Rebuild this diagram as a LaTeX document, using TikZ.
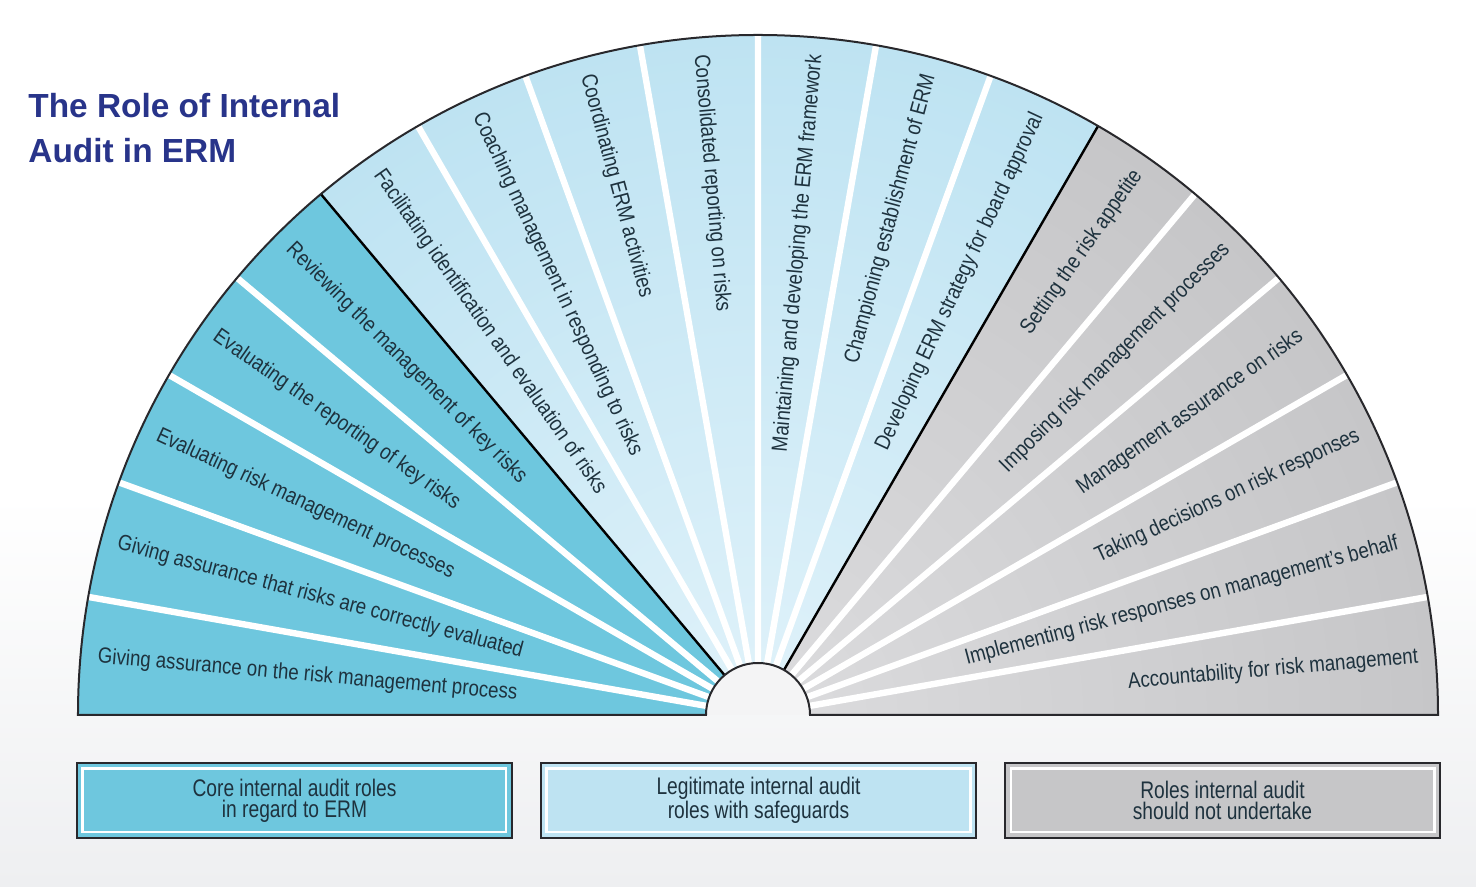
\documentclass[tikz,border=0pt]{standalone}
\usepackage{fontspec}
\usepackage{tikz}
\newfontfamily\narrowfont[FakeStretch=0.85]{Liberation Sans}
\newfontfamily\keyfont[FakeStretch=0.8]{Liberation Sans}
\newfontfamily\titlefont{Liberation Sans}
\definecolor{corefill}{RGB}{110,199,222}
\definecolor{legitfill}{RGB}{190,227,242}
\definecolor{legitlight}{RGB}{224,242,250}
\definecolor{greyfill}{RGB}{198,198,200}
\definecolor{greylight}{RGB}{220,220,222}
\definecolor{labeltext}{RGB}{30,50,62}
\definecolor{titleblue}{RGB}{40,52,138}
\definecolor{rimgrey}{RGB}{40,40,44}
\definecolor{bggrey}{RGB}{238,239,241}
\definecolor{holegrey}{RGB}{244,244,245}

\begin{document}
\begin{tikzpicture}[x=0.5pt, y=0.5pt,
  every node/.style={inner sep=0pt},
  left role/.style={font=\narrowfont\fontsize{11pt}{12pt}\selectfont, text=labeltext, anchor=west},
  right role/.style={font=\narrowfont\fontsize{11pt}{12pt}\selectfont, text=labeltext, anchor=east},
  divider/.style={white, line width=3.2pt},
  group line/.style={black, line width=1.2pt},
  rim/.style={rimgrey, line width=1pt},
  key box/.style={draw=rimgrey, line width=1.2pt, align=center, minimum width=217.5pt, minimum height=37.5pt, font=\keyfont\fontsize{12pt}{10.5pt}\selectfont, text=labeltext},
  key inset/.style={white, line width=1.3pt}]
\useasboundingbox (-758,-172) rectangle (718,715);
\fill[white] (-758,-172) rectangle (718,715);
\shade[top color=white, bottom color=bggrey] (-758,-172) rectangle (718,220);

\node[font=\titlefont\bfseries\fontsize{16.7pt}{22.5pt}\selectfont, text=titleblue, align=left, anchor=north west] (title) at (-730,622) {The Role of Internal\\Audit in ERM};

\fill[corefill] (180:52) -- (180:680) arc[start angle=180, end angle=130, radius=680] -- (130:52) arc[start angle=130, end angle=180, radius=52] -- cycle;
\begin{scope}
\clip (130:52) -- (130:680) arc[start angle=130, end angle=60, radius=680] -- (60:52) arc[start angle=60, end angle=130, radius=52] -- cycle;
\shade[inner color=legitlight, outer color=legitfill] (0,0) circle (680);
\end{scope}
\begin{scope}
\clip (60:52) -- (60:680) arc[start angle=60, end angle=0, radius=680] -- (0:52) arc[start angle=0, end angle=60, radius=52] -- cycle;
\shade[inner color=greylight, outer color=greyfill] (0,0) circle (680);
\end{scope}

\draw[divider] (170:52) -- (170:680) (160:52) -- (160:680) (150:52) -- (150:680) (140:52) -- (140:680);
\draw[divider] (120:52) -- (120:680) (110:52) -- (110:680) (100:52) -- (100:680) (90:52) -- (90:680) (80:52) -- (80:680) (70:52) -- (70:680);
\draw[divider] (50:52) -- (50:680) (40:52) -- (40:680) (30:52) -- (30:680) (20:52) -- (20:680) (10:52) -- (10:680);

\fill[holegrey] (52,0) arc[start angle=0, end angle=180, radius=52] -- cycle;
\draw[group line] (130:52) -- (130:680);
\draw[group line] (60:52) -- (60:680);
\draw[rim] (-680,0) arc[start angle=180, end angle=0, radius=680] -- (52,0) arc[start angle=0, end angle=180, radius=52] -- cycle;

\node[left role, rotate=-5] (assurance process) at (175:663) {Giving assurance on the risk management process};
\node[left role, rotate=-15] (assurance evaluation) at (165:663) {Giving assurance that risks are correctly evaluated};
\node[left role, rotate=-25] (evaluating processes) at (155:663) {Evaluating risk management processes};
\node[left role, rotate=-35] (evaluating reporting) at (145:663) {Evaluating the reporting of key risks};
\node[left role, rotate=-45] (reviewing) at (135:663) {Reviewing the management of key risks};

\node[left role, rotate=-55] (facilitating) at (125:663) {Facilitating identification and evaluation of risks};
\node[left role, rotate=-65] (coaching) at (115:663) {Coaching management in responding to risks};
\node[left role, rotate=-75] (coordinating) at (105:663) {Coordinating ERM activities};
\node[left role, rotate=-85] (consolidated) at (95:663) {Consolidated reporting on risks};
\node[right role, rotate=85] (maintaining) at (85:663) {Maintaining and developing the ERM framework};
\node[right role, rotate=75] (championing) at (75:663) {Championing establishment of ERM};
\node[right role, rotate=65] (developing) at (65:663) {Developing ERM strategy for board approval};

\node[right role, rotate=55] (appetite) at (55:663) {Setting the risk appetite};
\node[right role, rotate=45] (imposing) at (45:663) {Imposing risk management processes};
\node[right role, rotate=35] (management assurance) at (35:663) {Management assurance on risks};
\node[right role, rotate=25] (decisions) at (25:663) {Taking decisions on risk responses};
\node[right role, rotate=15] (implementing) at (15:663) {Implementing risk responses on management’s behalf};
\node[right role, rotate=5] (accountability) at (5:663) {Accountability for risk management};

\node[key box, fill=corefill] (core key) at (-463.5,-85.5) {Core internal audit roles\\in regard to ERM};
\node[key box, fill=legitfill] (legit key) at (0.5,-85.5) {Legitimate internal audit\\roles with safeguards};
\node[key box, fill=greyfill] (grey key) at (464.5,-85.5) {Roles internal audit\\should not undertake};
\draw[key inset] ([shift={(7,7)}]core key.south west) rectangle ([shift={(-7,-7)}]core key.north east);
\draw[key inset] ([shift={(7,7)}]legit key.south west) rectangle ([shift={(-7,-7)}]legit key.north east);
\draw[key inset] ([shift={(7,7)}]grey key.south west) rectangle ([shift={(-7,-7)}]grey key.north east);
\end{tikzpicture}
\end{document}
